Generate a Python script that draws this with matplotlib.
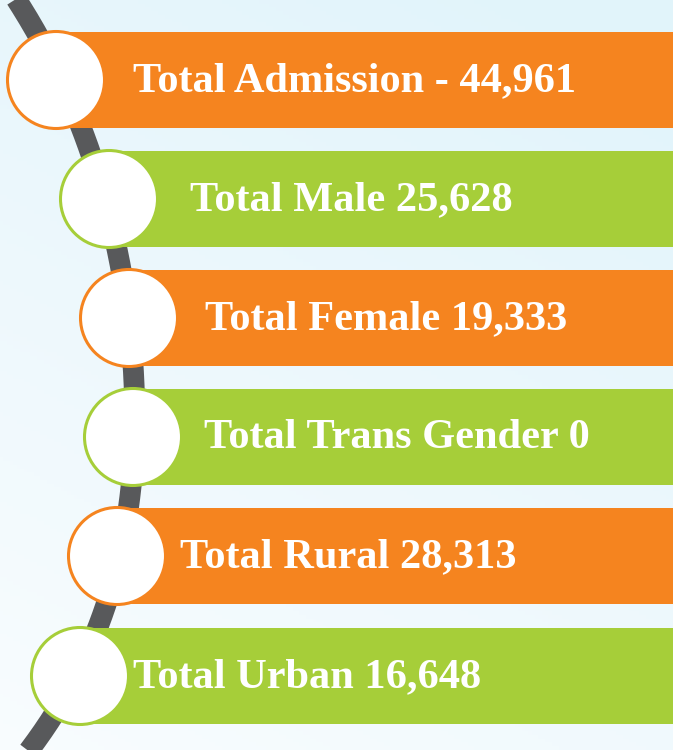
import numpy as np
import matplotlib
matplotlib.use("Agg")
import matplotlib.pyplot as plt
from matplotlib.patches import Rectangle, Circle

# ---- data ----
labels = ["Total Admission - 44,961", "Total Male 25,628", "Total Female 19,333",
          "Total Trans Gender 0", "Total Rural 28,313", "Total Urban 16,648"]
values = [44961, 25628, 19333, 0, 28313, 16648]
bar_colors = ["#F5841F", "#A6CE39", "#F5841F", "#A6CE39", "#F5841F", "#A6CE39"]

# ---- layout (pixels) ----
W, H = 673, 750
row_y = [80, 199, 318, 437, 556, 676]
circ_x = [56, 109, 129, 133, 117, 80]
text_x = [133, 190, 205, 204, 180, 133]
bar_h = 96
radius = 48.5

fig = plt.figure(figsize=(W / 100, H / 100), dpi=100)
ax = fig.add_axes([0, 0, 1, 1])
ax.set_xlim(0, W)
ax.set_ylim(H, 0)
ax.axis("off")

# background gradient
yy, xx = np.mgrid[0:1:200j, 0:1:200j]
t = np.clip(0.75 * yy + 0.35 * (1 - xx) - 0.1, 0, 1)
top = np.array([0.886, 0.957, 0.984])
bot = np.array([0.975, 0.99, 0.998])
img = top[None, None, :] * (1 - t[..., None]) + bot[None, None, :] * t[..., None]
ax.imshow(img, extent=[0, W, H, 0], aspect="auto", zorder=0)

# gray curved spine through circle centers
ys = np.array([-10] + row_y + [760])
xs = np.array([12] + circ_x + [20])
coef = np.polyfit(ys, xs, 4)
yc = np.linspace(-10, 760, 400)
ax.plot(np.polyval(coef, yc), yc, color="#58595B", lw=15, solid_capstyle="butt", zorder=1)

for i, (lab, col) in enumerate(zip(labels, bar_colors)):
    y = row_y[i]
    cx = circ_x[i]
    ax.add_patch(Rectangle((cx, y - bar_h / 2), W - cx + 5, bar_h, facecolor=col,
                           edgecolor="none", zorder=2))
    ax.add_patch(Circle((cx, y), radius, facecolor="white", edgecolor=col, lw=2.2, zorder=3))
    ax.text(text_x[i], y + 1, lab, color="white", fontsize=30.5, fontweight="bold",
            family="Liberation Serif", va="center", ha="left", zorder=4)

fig.savefig("out.png", dpi=100)
